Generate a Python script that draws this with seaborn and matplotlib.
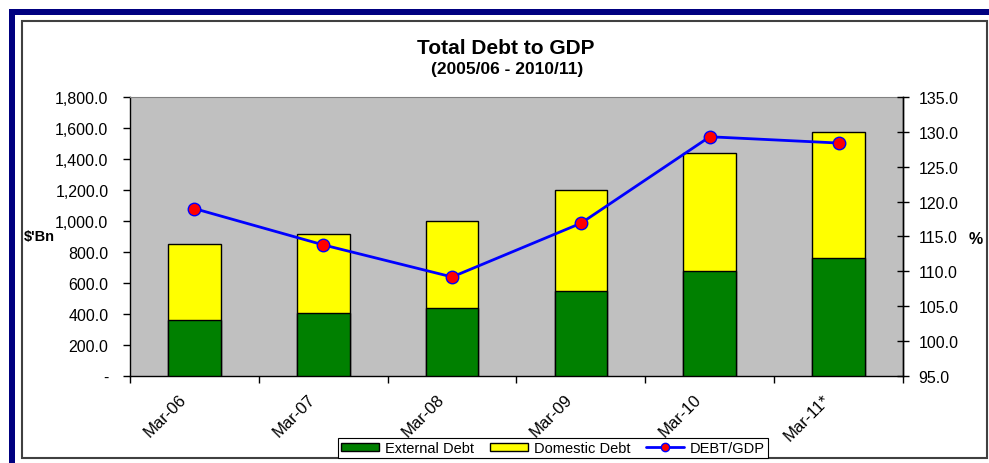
import seaborn as sns
import matplotlib.pyplot as plt
import matplotlib.transforms as mtransforms
import pandas as pd
from matplotlib.patches import Rectangle
from matplotlib.lines import Line2D
from matplotlib.ticker import FixedLocator, FuncFormatter

# data
periods = ['Mar-06', 'Mar-07', 'Mar-08', 'Mar-09', 'Mar-10', 'Mar-11*']
external_debt = [361, 406, 439, 548, 675, 759]
domestic_debt = [489, 510, 561, 654, 762, 813]
debt_to_gdp = [119.0, 113.8, 109.2, 116.9, 129.3, 128.4]

df = pd.DataFrame({'period': periods,
                   'external': external_debt,
                   'domestic': domestic_debt,
                   'ratio': debt_to_gdp})
df['total'] = df['external'] + df['domestic']

sns.set_style('white')
plt.rcParams['font.family'] = ['Liberation Sans', 'DejaVu Sans']
plt.rcParams['text.color'] = 'black'
plt.rcParams['xtick.color'] = 'black'
plt.rcParams['ytick.color'] = 'black'

W, H = 989, 464
fig = plt.figure(figsize=(W / 100, H / 100), dpi=100)

# outer navy border and inner chart frame
fig.patches.append(Rectangle((9 / W, 0), 6 / W, 1 - 10 / H, transform=fig.transFigure,
                             facecolor='#000080', edgecolor='none', zorder=-2))
fig.patches.append(Rectangle((9 / W, 1 - 16 / H), 1, 6 / H, transform=fig.transFigure,
                             facecolor='#000080', edgecolor='none', zorder=-2))
fig.patches.append(Rectangle((22 / W, 1 - 459 / H), (987 - 22) / W, (459 - 22) / H,
                             transform=fig.transFigure, facecolor='white',
                             edgecolor='#404040', linewidth=1.5, zorder=-1))

ax = fig.add_axes([130 / W, 1 - 377 / H, (903 - 130) / W, (377 - 98) / H])
ax.set_facecolor('#C0C0C0')

sns.barplot(data=df, x='period', y='total', color='#FFFF00', width=0.41,
            edgecolor='black', linewidth=1, saturation=1, ax=ax, zorder=2)
sns.barplot(data=df, x='period', y='external', color='#008000', width=0.41,
            edgecolor='black', linewidth=1, saturation=1, ax=ax, zorder=3)

ax.set_xlim(-0.5, len(periods) - 0.5)
ax.set_ylim(0, 1800)
ax.set_yticks(range(0, 1801, 200))
ax.yaxis.set_major_formatter(FuncFormatter(lambda v, p: '-' if v == 0 else f'{v:,.1f}'))
ax.set_xlabel('')
ax.set_ylabel('')
ax.tick_params(axis='y', direction='out', length=5, width=1, labelsize=11.5, left=True, pad=10.5)
ax.tick_params(axis='x', which='major', length=0, labelsize=12, pad=11)
ax.xaxis.set_minor_locator(FixedLocator([i - 0.5 for i in range(len(periods) + 1)]))
ax.tick_params(axis='x', which='minor', direction='out', length=5, width=1, bottom=True)
shift = mtransforms.ScaledTranslation(-16 / 100, 0, fig.dpi_scale_trans)
for lbl in ax.get_xticklabels():
    lbl.set_rotation(45)
    lbl.set_ha('right')
    lbl.set_va('top')
    lbl.set_rotation_mode('anchor')
    lbl.set_transform(lbl.get_transform() + shift)

for side in ['left', 'bottom', 'right']:
    ax.spines[side].set_color('black')
    ax.spines[side].set_linewidth(1)
ax.spines['top'].set_color('#808080')
ax.spines['top'].set_linewidth(0.8)

ax2 = ax.twinx()
sns.pointplot(data=df, x='period', y='ratio', color='#0000FF', errorbar=None,
              markers='o', markersize=9, markerfacecolor='#FF0000',
              markeredgecolor='#0000FF', markeredgewidth=1, linewidth=2, ax=ax2)
ax2.set_xlim(-0.5, len(periods) - 0.5)
ax2.set_ylim(95, 135)
ax2.set_yticks(range(95, 136, 5))
ax2.yaxis.set_major_formatter(FuncFormatter(lambda v, p: f'{v:.1f}'))
ax2.set_ylabel('')
ax2.tick_params(axis='y', direction='inout', length=8, width=1, labelsize=11.5, right=True, pad=7)
for side in ['left', 'top', 'bottom']:
    ax2.spines[side].set_visible(False)
ax2.spines['right'].set_color('black')
ax2.spines['right'].set_linewidth(1)

# titles and axis labels
fig.text(506 / W, 1 - 48 / H, 'Total Debt to GDP', ha='center', va='center',
         fontsize=15, fontweight='bold')
fig.text(507 / W, 1 - 69.5 / H, '(2005/06 - 2010/11)', ha='center', va='center',
         fontsize=12.5, fontweight='bold')
fig.text(24 / W, 1 - 237 / H, "$'Bn", ha='left', va='center', fontsize=10.5, fontweight='bold')
fig.text(976 / W, 1 - 240 / H, '%', ha='center', va='center', fontsize=11.5, fontweight='bold')

# legend
handles = [Rectangle((0, 0), 1, 1, facecolor='#008000', edgecolor='black'),
           Rectangle((0, 0), 1, 1, facecolor='#FFFF00', edgecolor='black'),
           Line2D([], [], color='#0000FF', linewidth=2, marker='o', markersize=6,
                  markerfacecolor='#FF0000', markeredgecolor='#0000FF')]
leg = fig.legend(handles, ['External Debt', 'Domestic Debt', 'DEBT/GDP'],
                 loc='center', bbox_to_anchor=(553 / W, 1 - 449 / H), ncol=3,
                 fontsize=10.5, frameon=True, fancybox=False, framealpha=1,
                 borderpad=0.2, handlelength=2.6, handleheight=0.5,
                 columnspacing=1.1, handletextpad=0.4, borderaxespad=0)
leg.get_frame().set_edgecolor('black')
leg.get_frame().set_linewidth(0.8)

fig.savefig('out.png', dpi=100)
